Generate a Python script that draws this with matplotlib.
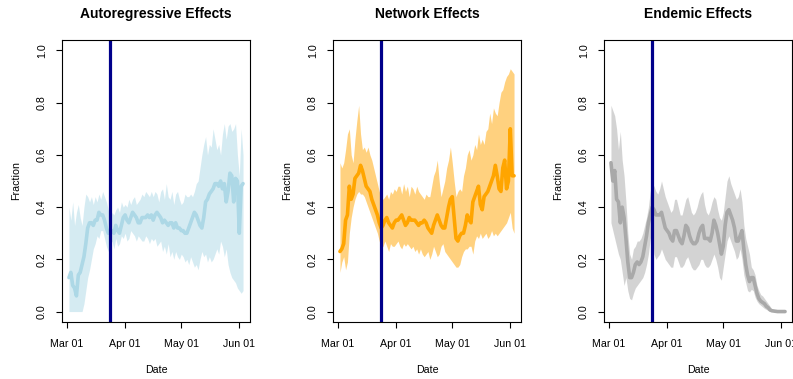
import numpy as np
import pandas as pd
import matplotlib
matplotlib.use("Agg")
import matplotlib.pyplot as plt
import matplotlib.dates as mdates

plt.rcParams['font.family'] = ['Liberation Sans', 'DejaVu Sans']

# daily estimates, 2 Mar - 3 Jun 2020
dates = pd.date_range("2020-03-02", "2020-06-03", freq="D")
lockdown = pd.Timestamp("2020-03-24")

ar_mean = [0.13, 0.15, 0.10, 0.09, 0.06, 0.14, 0.15, 0.18, 0.21, 0.26,
           0.32, 0.34, 0.34, 0.33, 0.35, 0.35, 0.38, 0.37, 0.37, 0.35,
           0.32, 0.30, 0.30, 0.31, 0.30, 0.33, 0.31, 0.30, 0.33, 0.36,
           0.37, 0.35, 0.34, 0.36, 0.38, 0.37, 0.36, 0.34, 0.34, 0.36,
           0.36, 0.36, 0.37, 0.36, 0.37, 0.35, 0.37, 0.38, 0.37, 0.36,
           0.34, 0.35, 0.34, 0.33, 0.34, 0.34, 0.32, 0.34, 0.32, 0.32,
           0.31, 0.31, 0.30, 0.30, 0.32, 0.34, 0.36, 0.38, 0.37, 0.35,
           0.33, 0.32, 0.36, 0.42, 0.43, 0.45, 0.46, 0.47, 0.49, 0.49,
           0.48, 0.50, 0.47, 0.49, 0.42, 0.46, 0.53, 0.52, 0.42, 0.51,
           0.50, 0.30, 0.48, 0.49]
ar_hi = [0.40, 0.35, 0.42, 0.33, 0.38, 0.41, 0.36, 0.33, 0.40, 0.45,
         0.44, 0.42, 0.44, 0.41, 0.44, 0.42, 0.45, 0.43, 0.46, 0.44,
         0.42, 0.39, 0.35, 0.38, 0.37, 0.39, 0.40, 0.38, 0.42, 0.40,
         0.41, 0.40, 0.43, 0.41, 0.43, 0.44, 0.41, 0.42, 0.43, 0.45,
         0.44, 0.46, 0.45, 0.44, 0.46, 0.44, 0.46, 0.45, 0.42, 0.46,
         0.47, 0.43, 0.49, 0.44, 0.43, 0.46, 0.41, 0.45, 0.46, 0.43,
         0.41, 0.42, 0.45, 0.44, 0.44, 0.45, 0.44, 0.46, 0.49, 0.50,
         0.55, 0.60, 0.64, 0.67, 0.60, 0.64, 0.63, 0.70, 0.66, 0.62,
         0.64, 0.60, 0.68, 0.72, 0.66, 0.71, 0.72, 0.69, 0.70, 0.72,
         0.60, 0.52, 0.70, 0.60]
ar_lo = [0.0, 0.0, 0.0, 0.0, 0.0, 0.0, 0.0, 0.0, 0.03, 0.08,
         0.13, 0.16, 0.20, 0.24, 0.26, 0.29, 0.28, 0.31, 0.31, 0.28,
         0.25, 0.23, 0.26, 0.27, 0.24, 0.28, 0.25, 0.26, 0.29, 0.28,
         0.30, 0.27, 0.28, 0.31, 0.30, 0.29, 0.27, 0.29, 0.28, 0.27,
         0.27, 0.29, 0.28, 0.26, 0.28, 0.27, 0.28, 0.25, 0.26, 0.27,
         0.23, 0.25, 0.22, 0.26, 0.21, 0.23, 0.20, 0.23, 0.21, 0.20,
         0.22, 0.21, 0.19, 0.20, 0.18, 0.21, 0.19, 0.17, 0.18, 0.16,
         0.20, 0.23, 0.21, 0.22, 0.19, 0.21, 0.19, 0.20, 0.22, 0.24,
         0.22, 0.27, 0.25, 0.21, 0.24, 0.18, 0.15, 0.13, 0.12, 0.11,
         0.09, 0.08, 0.07, 0.08]

ne_mean = [0.23, 0.24, 0.26, 0.35, 0.37, 0.48, 0.43, 0.45, 0.51, 0.52,
           0.53, 0.56, 0.54, 0.51, 0.48, 0.47, 0.46, 0.43, 0.41, 0.39,
           0.37, 0.34, 0.32, 0.33, 0.35, 0.36, 0.34, 0.33, 0.32, 0.34,
           0.35, 0.35, 0.36, 0.37, 0.35, 0.33, 0.34, 0.36, 0.35, 0.35,
           0.35, 0.34, 0.33, 0.34, 0.34, 0.35, 0.34, 0.32, 0.31, 0.30,
           0.33, 0.35, 0.37, 0.35, 0.33, 0.32, 0.32, 0.36, 0.40, 0.43,
           0.44, 0.36, 0.28, 0.27, 0.29, 0.30, 0.30, 0.33, 0.37, 0.35,
           0.34, 0.42, 0.44, 0.46, 0.48, 0.41, 0.39, 0.44, 0.45, 0.46,
           0.48, 0.50, 0.52, 0.56, 0.52, 0.47, 0.46, 0.55, 0.58, 0.47,
           0.50, 0.70, 0.52, 0.52]
ne_hi = [0.57, 0.55, 0.57, 0.62, 0.68, 0.70, 0.60, 0.57, 0.66, 0.73,
         0.79, 0.68, 0.62, 0.63, 0.61, 0.63, 0.60, 0.58, 0.55, 0.52,
         0.49, 0.46, 0.44, 0.43, 0.44, 0.45, 0.43, 0.46, 0.45, 0.47,
         0.46, 0.48, 0.48, 0.45, 0.49, 0.46, 0.48, 0.44, 0.48, 0.47,
         0.45, 0.48, 0.46, 0.45, 0.44, 0.43, 0.45, 0.44, 0.44, 0.48,
         0.52, 0.54, 0.58, 0.50, 0.44, 0.47, 0.50, 0.55, 0.58, 0.63,
         0.57, 0.50, 0.44, 0.46, 0.47, 0.46, 0.52, 0.55, 0.60, 0.62,
         0.58, 0.60, 0.64, 0.62, 0.68, 0.64, 0.66, 0.64, 0.69, 0.70,
         0.76, 0.72, 0.78, 0.76, 0.75, 0.80, 0.84, 0.85, 0.88, 0.90,
         0.91, 0.93, 0.92, 0.91]
ne_lo = [0.15, 0.19, 0.21, 0.16, 0.19, 0.30, 0.36, 0.40, 0.43, 0.45,
         0.46, 0.45, 0.45, 0.44, 0.42, 0.40, 0.38, 0.36, 0.34, 0.32,
         0.30, 0.27, 0.24, 0.25, 0.27, 0.25, 0.23, 0.26, 0.25, 0.25,
         0.26, 0.27, 0.25, 0.24, 0.26, 0.25, 0.26, 0.25, 0.24, 0.25,
         0.23, 0.24, 0.22, 0.24, 0.22, 0.21, 0.22, 0.23, 0.20, 0.22,
         0.25, 0.23, 0.21, 0.22, 0.25, 0.26, 0.23, 0.22, 0.21, 0.20,
         0.19, 0.18, 0.17, 0.17, 0.18, 0.21, 0.23, 0.24, 0.24, 0.25,
         0.25, 0.22, 0.27, 0.29, 0.28, 0.30, 0.28, 0.29, 0.30, 0.28,
         0.29, 0.31, 0.29, 0.30, 0.29, 0.30, 0.31, 0.32, 0.33, 0.34,
         0.36, 0.38, 0.32, 0.30]

en_mean = [0.57, 0.50, 0.54, 0.43, 0.42, 0.34, 0.40, 0.36, 0.28, 0.19,
           0.13, 0.13, 0.15, 0.18, 0.19, 0.18, 0.19, 0.21, 0.25, 0.29,
           0.34, 0.37, 0.40, 0.39, 0.37, 0.37, 0.37, 0.38, 0.35, 0.32,
           0.31, 0.30, 0.28, 0.27, 0.31, 0.31, 0.29, 0.27, 0.26, 0.29,
           0.33, 0.32, 0.29, 0.27, 0.26, 0.26, 0.27, 0.30, 0.32, 0.33,
           0.28, 0.28, 0.28, 0.27, 0.30, 0.35, 0.33, 0.30, 0.26, 0.22,
           0.25, 0.33, 0.38, 0.39, 0.37, 0.35, 0.32, 0.27, 0.27, 0.29,
           0.31, 0.24, 0.18, 0.14, 0.115, 0.13, 0.13, 0.10, 0.07, 0.05,
           0.04, 0.035, 0.03, 0.02, 0.015, 0.006, 0.003, 0.002, 0.001, 0.0,
           0.0, 0.0, 0.0, 0.0]
en_hi = [0.79, 0.77, 0.75, 0.70, 0.62, 0.69, 0.58, 0.52, 0.42, 0.30,
         0.22, 0.20, 0.24, 0.25, 0.27, 0.27, 0.28, 0.30, 0.33, 0.36,
         0.40, 0.46, 0.49, 0.48, 0.46, 0.45, 0.47, 0.50, 0.47, 0.44,
         0.42, 0.40, 0.38, 0.39, 0.43, 0.43, 0.40, 0.37, 0.37, 0.40,
         0.43, 0.44, 0.41, 0.38, 0.37, 0.38, 0.40, 0.43, 0.45, 0.46,
         0.41, 0.38, 0.37, 0.39, 0.42, 0.44, 0.43, 0.39, 0.36, 0.35,
         0.38, 0.44, 0.50, 0.52, 0.49, 0.47, 0.45, 0.43, 0.44, 0.47,
         0.42, 0.33, 0.28, 0.25, 0.22, 0.17, 0.16, 0.14, 0.10, 0.08,
         0.065, 0.06, 0.05, 0.04, 0.03, 0.02, 0.01, 0.008, 0.006, 0.005,
         0.004, 0.004, 0.003, 0.003]
en_lo = [0.34, 0.31, 0.28, 0.25, 0.22, 0.20, 0.15, 0.10, 0.13, 0.08,
         0.05, 0.045, 0.07, 0.09, 0.10, 0.11, 0.12, 0.13, 0.15, 0.18,
         0.22, 0.28, 0.30, 0.22, 0.20, 0.21, 0.22, 0.24, 0.22, 0.20,
         0.19, 0.18, 0.17, 0.17, 0.21, 0.21, 0.19, 0.17, 0.17, 0.18,
         0.20, 0.21, 0.19, 0.17, 0.16, 0.16, 0.17, 0.18, 0.20, 0.20,
         0.18, 0.17, 0.17, 0.18, 0.20, 0.22, 0.20, 0.17, 0.13, 0.12,
         0.17, 0.22, 0.27, 0.29, 0.27, 0.25, 0.23, 0.20, 0.21, 0.24,
         0.20, 0.14, 0.11, 0.08, 0.075, 0.085, 0.08, 0.055, 0.04, 0.03,
         0.024, 0.018, 0.012, 0.008, 0.004, 0.002, 0.0, 0.0, 0.0, 0.0,
         0.0, 0.0, 0.0, 0.0]

titles = ["Autoregressive Effects", "Network Effects", "Endemic Effects"]
line_cols = ["#ADD8E6", "#FFA500", "#A9A9A9"]
series = [(ar_mean, ar_lo, ar_hi), (ne_mean, ne_lo, ne_hi), (en_mean, en_lo, en_hi)]

W, H = 793, 379
fig = plt.figure(figsize=(W / 100, H / 100), dpi=100)

# panel boxes in pixels: left, right, top, bottom
boxes = [(62, 250), (333, 521), (604, 792)]
top, bottom = 40, 322

x0 = mdates.date2num(dates[0])
x1 = mdates.date2num(dates[-1])
pad = 0.04 * (x1 - x0)
xticks = pd.to_datetime(["2020-03-01", "2020-04-01", "2020-05-01", "2020-06-01"])

for (l, r), title, col, (m, lo, hi) in zip(boxes, titles, line_cols, series):
    ax = fig.add_axes([l / W, 1 - bottom / H, (r - l) / W, (bottom - top) / H])
    ax.fill_between(dates, lo, hi, color=col, alpha=0.5, lw=0)
    ax.plot(dates, m, color=col, lw=2.6, solid_capstyle='round', solid_joinstyle='round')
    ax.axvline(lockdown, color="#00008B", lw=2.3)

    ax.set_xlim(x0 - pad, x1 + pad)
    ax.set_ylim(-0.04, 1.04)
    ax.set_yticks([0, 0.2, 0.4, 0.6, 0.8, 1.0])
    ax.set_yticklabels(["0.0", "0.2", "0.4", "0.6", "0.8", "1.0"],
                       rotation=90, va='center')
    ax.set_xticks(xticks)
    ax.xaxis.set_major_formatter(mdates.DateFormatter("%b %d"))
    ax.tick_params(direction='out', length=4, width=0.8, labelsize=7.7, pad=7)
    ax.tick_params(axis='x', pad=8)
    for s in ax.spines.values():
        s.set_linewidth(0.8)

    cx = (l + r) / 2
    fig.text(cx / W, 1 - 14 / H, title, ha='center', va='center',
             fontsize=10, fontweight='bold')
    fig.text(cx / W, 1 - 370 / H, "Date", ha='center', va='center', fontsize=7.7)
    fig.text((l - 46) / W, 1 - (top + bottom) / 2 / H, "Fraction", rotation=90,
             ha='center', va='center', fontsize=7.7)

fig.savefig("out.png", dpi=100)
